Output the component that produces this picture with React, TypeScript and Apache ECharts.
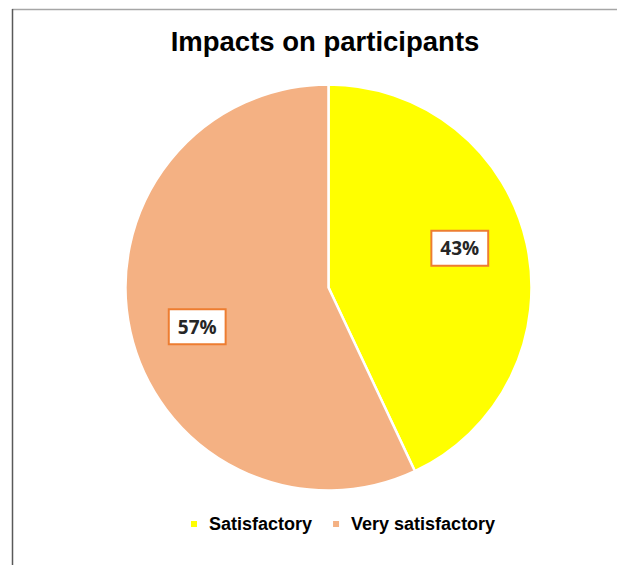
import React, { useEffect, useRef } from "react";
import * as echarts from "echarts";

const categories = ["Satisfactory", "Very satisfactory"];
const shares = [43, 57];
const sliceColors = ["#FFFF00", "#F4B183"];
const chartTitle = "Impacts on participants";

export default function App() {
  const ref = useRef<HTMLDivElement>(null);

  useEffect(() => {
    if (!ref.current) return;
    const chart = echarts.init(ref.current, undefined, { renderer: "svg" });

    const data = categories.map((name, i) => ({
      name,
      value: shares[i],
      itemStyle: { color: sliceColors[i] },
    }));

    chart.setOption({
      animation: false,
      backgroundColor: "#ffffff",
      title: {
        text: chartTitle,
        left: 325,
        top: 27,
        padding: 0,
        textAlign: "center",
        textStyle: {
          fontFamily: "Liberation Sans, Arial, sans-serif",
          fontSize: 27.5,
          fontWeight: "bold",
          color: "#000000",
        },
      },
      legend: {
        data: categories,
        left: 189,
        top: 515,
        padding: 0,
        icon: "rect",
        itemWidth: 8,
        itemHeight: 8,
        itemGap: 19,
        selectedMode: false,
        textStyle: {
          fontFamily: "Liberation Sans, Arial, sans-serif",
          fontSize: 18,
          fontWeight: "bold",
          color: "#000000",
          padding: [0, 0, 0, 6],
        },
      },
      graphic: [
        {
          type: "line",
          shape: { x1: 12, y1: 9.5, x2: 617, y2: 9.5 },
          style: { stroke: "#a6a6a6", lineWidth: 1.5 },
          silent: true,
        },
        {
          type: "line",
          shape: { x1: 12.5, y1: 9, x2: 12.5, y2: 565 },
          style: { stroke: "#595959", lineWidth: 1.5 },
          silent: true,
        },
      ],
      series: [
        {
          type: "pie",
          center: [328.5, 287.5],
          radius: [0, 203],
          startAngle: 90,
          clockwise: true,
          silent: true,
          label: { show: false },
          labelLine: { show: false },
          itemStyle: { borderColor: "#ffffff", borderWidth: 2.5 },
          data,
        },
        {
          // invisible twin: its inner labels sit further out than the visible pie's would
          type: "pie",
          center: [328.5, 287.5],
          radius: [0, 268],
          startAngle: 94,
          clockwise: true,
          silent: true,
          z: 5,
          itemStyle: { color: "rgba(0,0,0,0)", borderWidth: 0 },
          labelLine: { show: false },
          label: {
            show: true,
            position: "inside",
            formatter: "{c}%",
            fontFamily: "Open Sans, Noto Sans, sans-serif",
            fontSize: 19,
            fontWeight: "bold",
            color: "#262626",
            backgroundColor: "#ffffff",
            borderColor: "#ED7D31",
            borderWidth: 2,
            padding: [8, 8, 6, 8],
          },
          data: categories.map((name, i) => ({ name, value: shares[i] })),
        },
      ],
    });

    return () => chart.dispose();
  }, []);

  return (
    <div
      ref={ref}
      style={{ position: "fixed", left: 0, top: 0, width: 617, height: 565 }}
    />
  );
}
